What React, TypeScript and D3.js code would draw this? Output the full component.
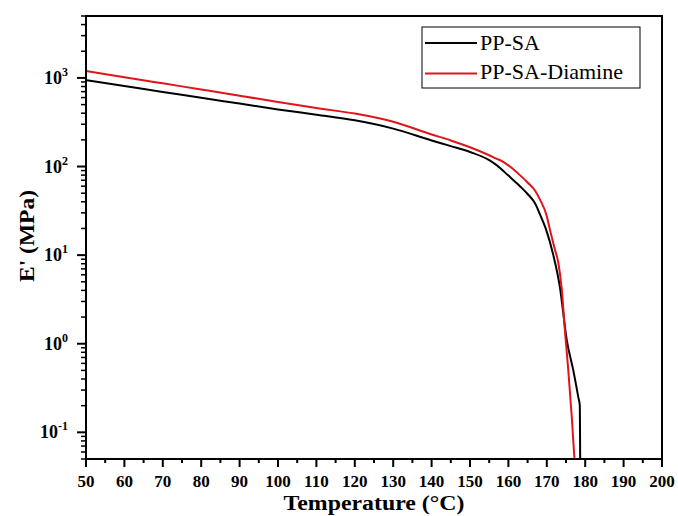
import React from "react";
import * as d3 from "d3";

const seriesNames = ["PP-SA", "PP-SA-Diamine"];
const seriesColors = ["#000000", "#e0141b"];

const tempA = [50, 60, 70, 80, 90, 100, 110, 120, 130, 140, 145, 150, 155, 157, 160, 163, 165, 167, 168.2, 169.8, 171.7, 173.4, 175.2, 176.9, 178.2, 178.6, 178.65, 178.7];
const modA = [943, 809, 695, 596, 513, 441, 384, 332, 268, 197, 170, 146, 118, 103, 79, 60, 49, 38, 29, 19.5, 10, 4.4, 1.1, 0.5, 0.25, 0.2, 0.1, 0.04];

const tempB = [50, 60, 70, 80, 90, 100, 110, 120, 130, 140, 145, 150, 155, 157, 158, 160, 163, 165, 167, 168.2, 170, 170.8, 172, 173, 173.9, 174.7, 175.6, 176.5, 177.2, 177.4];
const modB = [1200, 1020, 869, 741, 631, 535, 457, 396, 320, 230, 197, 165, 134, 122, 117, 103, 80, 66, 53, 42.6, 27.5, 19.5, 12, 8.2, 4.1, 1.44, 0.5, 0.15, 0.051, 0.04];

const xTicks = [50, 60, 70, 80, 90, 100, 110, 120, 130, 140, 150, 160, 170, 180, 190, 200];
const yMajor = [0.1, 1, 10, 100, 1000];
const yExp = ["-1", "0", "1", "2", "3"];

const W = 678, H = 516;
const L = 86, R = 662, T = 16, B = 459;

export default function App() {
  const x = d3.scaleLinear().domain([50, 200]).range([L, R]);
  const y = d3.scaleLog().domain([0.05, 5000]).range([B, T]);
  const line = d3.line<[number, number]>().x(d => x(d[0])).y(d => y(d[1])).curve(d3.curveMonotoneX);
  const dA = line(tempA.map((t, i) => [t, modA[i]] as [number, number])) || "";
  const dB = line(tempB.map((t, i) => [t, modB[i]] as [number, number])) || "";

  const xMinor: number[] = [];
  for (let v = 55; v < 200; v += 10) xMinor.push(v);
  const yMinor: number[] = [];
  for (let e = -2; e <= 3; e++) {
    for (let k = 2; k <= 9; k++) {
      const v = k * Math.pow(10, e);
      if (v >= 0.05 && v <= 5000) yMinor.push(v);
    }
  }
  const serif = "'Liberation Serif', 'Times New Roman', serif";

  return (
    <svg width={W} height={H} style={{ position: "absolute", left: 0, top: 0, background: "#fff" }} fontFamily={serif}>
      <defs>
        <clipPath id="plotclip">
          <rect x={L} y={T} width={R - L} height={B - T} />
        </clipPath>
      </defs>
      <rect x={0} y={0} width={W} height={H} fill="#fff" />
      <g clipPath="url(#plotclip)" fill="none" strokeWidth={2} strokeLinejoin="round">
        <path d={dA} stroke={seriesColors[0]} />
        <path d={dB} stroke={seriesColors[1]} />
      </g>
      <rect x={L} y={T} width={R - L} height={B - T} fill="none" stroke="#000" strokeWidth={2} />
      {xTicks.map(v => (
        <g key={"xt" + v}>
          <line x1={x(v)} x2={x(v)} y1={B} y2={B + 8} stroke="#000" strokeWidth={2} />
          <text x={x(v)} y={487} textAnchor="middle" fontSize={17} fontWeight="bold">{v}</text>
        </g>
      ))}
      {xMinor.map(v => (
        <line key={"xm" + v} x1={x(v)} x2={x(v)} y1={B} y2={B + 4} stroke="#000" strokeWidth={2} />
      ))}
      {yMajor.map((v, i) => (
        <g key={"yt" + v}>
          <line x1={L - 9} x2={L} y1={y(v)} y2={y(v)} stroke="#000" strokeWidth={2} />
          <text x={68} y={y(v) + 6} textAnchor="end" fontSize={18} fontWeight="bold">
            10<tspan fontSize={12} dy={-8}>{yExp[i]}</tspan>
          </text>
        </g>
      ))}
      {yMinor.map(v => (
        <line key={"ym" + v} x1={L - 5} x2={L} y1={y(v)} y2={y(v)} stroke="#000" strokeWidth={1.5} />
      ))}
      <text x={(L + R) / 2} y={510} textAnchor="middle" fontSize={20} fontWeight="bold" textLength={181} lengthAdjust="spacingAndGlyphs">Temperature (°C)</text>
      <text transform={`translate(34, 236) rotate(-90)`} textAnchor="middle" fontSize={22} fontWeight="bold" textLength={92} lengthAdjust="spacingAndGlyphs">E' (MPa)</text>
      <rect x={422} y={27} width={218} height={61} fill="#fff" stroke="#000" strokeWidth={1} />
      {seriesNames.map((n, i) => (
        <g key={n}>
          <line x1={425} x2={477} y1={43 + i * 30.5} y2={43 + i * 30.5} stroke={seriesColors[i]} strokeWidth={2} />
          <text x={480} y={50 + i * 29} fontSize={22}>{n}</text>
        </g>
      ))}
    </svg>
  );
}
